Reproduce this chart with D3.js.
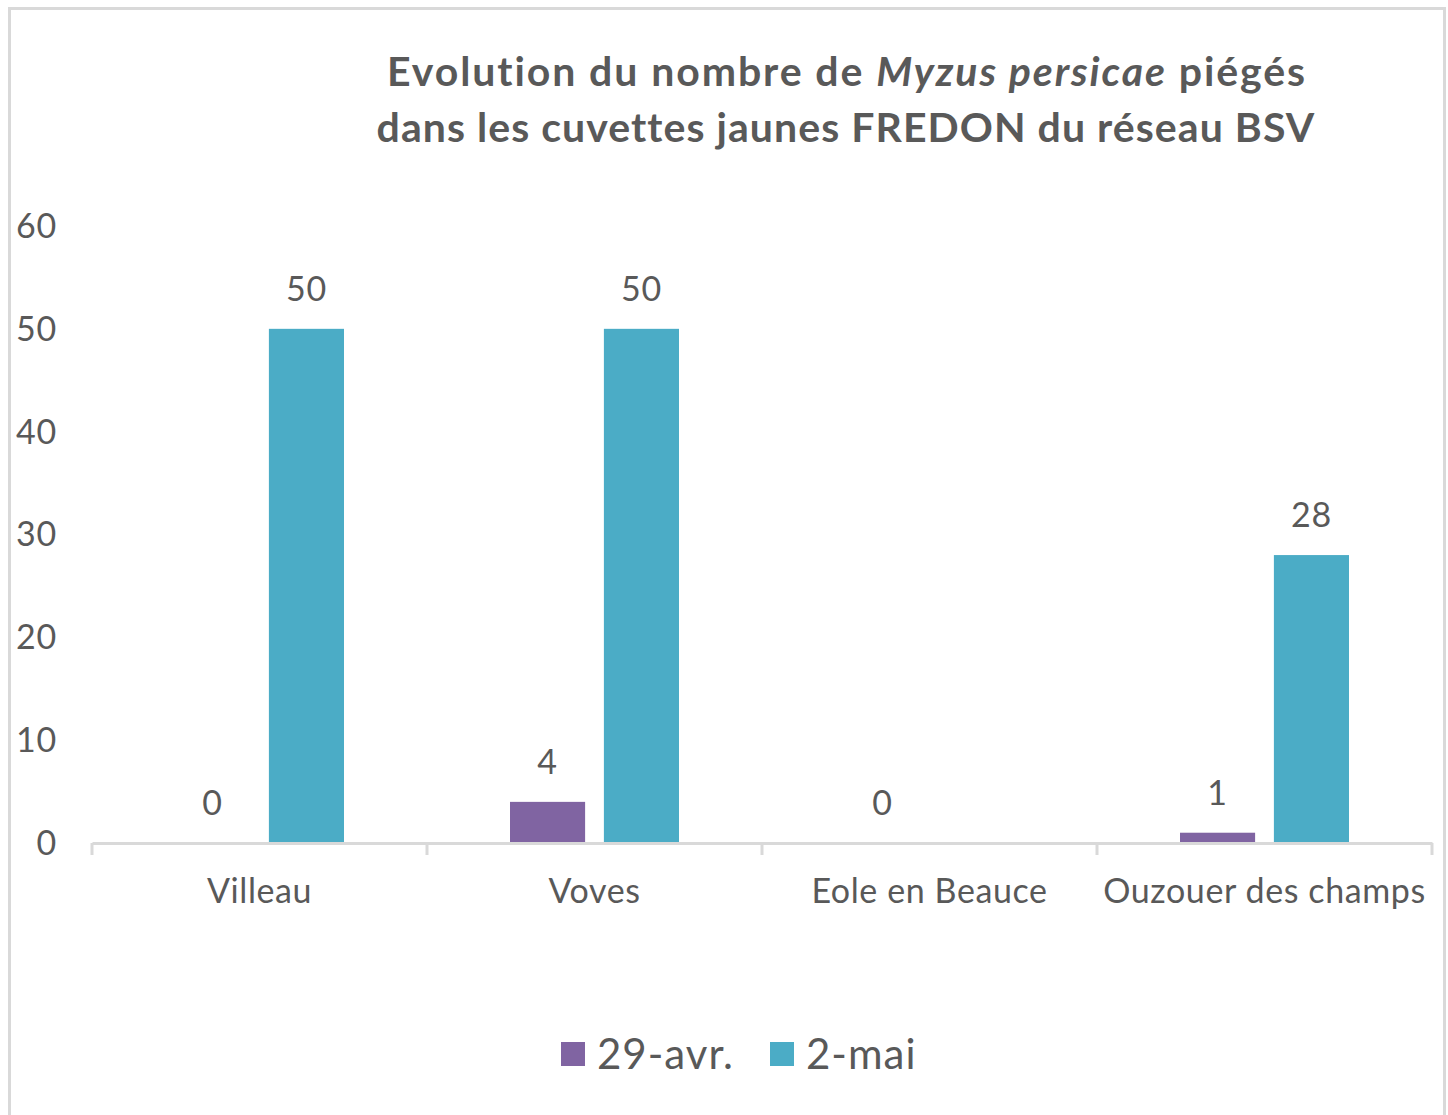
<!DOCTYPE html>
<head>
    <meta charset="utf-8">
    <script src="https://d3js.org/d3.v7.min.js"></script>
</head>
<body style="background: white; margin: 0">
    <div id="my_dataviz"></div>
    <script>
        // data
        var categories = ["Villeau", "Voves", "Eole en Beauce", "Ouzouer des champs"];
        var seriesNames = ["29-avr.", "2-mai"];
        var avr29 = [0, 4, 0, 1];
        var mai2 = [50, 50, null, 28];
        var yTicks = [0, 10, 20, 30, 40, 50, 60];
        var colors = ["#8064A2", "#4BACC6"];

        var W = 1448, H = 1115;
        var font = "Lato, 'Open Sans', sans-serif";
        var textColor = "#595959";

        var svg = d3.select("#my_dataviz")
            .append("svg")
            .attr("width", W)
            .attr("height", H)
            .style("display", "block");

        // chart frame
        svg.append("rect")
            .attr("x", 9.5).attr("y", 8.5)
            .attr("width", 1435).attr("height", 1120)
            .attr("fill", "white")
            .attr("stroke", "#d9d9d9")
            .attr("stroke-width", 3);

        // title
        var title = svg.append("text")
            .attr("text-anchor", "middle")
            .attr("font-family", font)
            .attr("font-weight", "bold")
            .attr("font-size", 41)
            .attr("fill", textColor);
        var t1 = title.append("tspan").attr("x", 847).attr("y", 86)
            .attr("letter-spacing", 1.9);
        t1.append("tspan").text("Evolution du nombre de ");
        t1.append("tspan").attr("font-style", "italic").text("Myzus persicae");
        t1.append("tspan").text(" piégés");
        title.append("tspan").attr("x", 846).attr("y", 142)
            .attr("letter-spacing", 1.05)
            .text("dans les cuvettes jaunes FREDON du réseau BSV");

        // scales
        var x0 = d3.scaleBand()
            .domain(categories)
            .range([92, 1432])
            .padding(0);

        var x1 = d3.scaleBand()
            .domain(seriesNames)
            .range([83, x0.bandwidth() - 83])
            .paddingInner(0.2);

        var y = d3.scaleLinear()
            .domain([0, 60])
            .range([843, 226]);

        // y labels (no axis line)
        svg.selectAll(".ylab")
            .data(yTicks)
            .enter()
            .append("text")
            .attr("x", 57)
            .attr("y", function (d) { return y(d); })
            .attr("dy", "0.35em")
            .attr("text-anchor", "end")
            .attr("font-family", font)
            .attr("font-size", 34)
            .attr("letter-spacing", 0.8)
            .attr("fill", textColor)
            .text(function (d) { return d; });

        // bars
        var rows = [];
        categories.forEach(function (c, i) {
            rows.push({ cat: c, s: seriesNames[0], v: avr29[i], col: colors[0] });
            rows.push({ cat: c, s: seriesNames[1], v: mai2[i], col: colors[1] });
        });
        var shown = rows.filter(function (d) { return d.v !== null; });

        svg.selectAll(".bar")
            .data(shown)
            .enter()
            .append("rect")
            .attr("x", function (d) { return x0(d.cat) + x1(d.s); })
            .attr("y", function (d) { return y(d.v); })
            .attr("width", x1.bandwidth())
            .attr("height", function (d) { return y(0) - y(d.v); })
            .attr("fill", function (d) { return d.col; });

        svg.selectAll(".vlab")
            .data(shown)
            .enter()
            .append("text")
            .attr("x", function (d) { return x0(d.cat) + x1(d.s) + x1.bandwidth() / 2; })
            .attr("y", function (d) { return y(d.v) - 28; })
            .attr("text-anchor", "middle")
            .attr("font-family", font)
            .attr("font-size", 34)
            .attr("letter-spacing", 0.8)
            .attr("fill", textColor)
            .text(function (d) { return d.v; });

        // x axis
        var xAxis = svg.append("g")
            .attr("transform", "translate(0," + y(0) + ")")
            .call(d3.axisBottom(x0).tickSize(0).tickPadding(36));
        xAxis.select(".domain").attr("stroke", "#d9d9d9").attr("stroke-width", 3);
        xAxis.selectAll("text")
            .attr("font-family", font)
            .attr("font-size", 34)
            .attr("letter-spacing", 0.6)
            .attr("fill", textColor);
        // boundary ticks
        var bounds = categories.map(function (c) { return x0(c); }).concat([x0.range()[1]]);
        svg.selectAll(".btick")
            .data(bounds)
            .enter()
            .append("line")
            .attr("x1", function (d) { return d; })
            .attr("x2", function (d) { return d; })
            .attr("y1", y(0))
            .attr("y2", y(0) + 12)
            .attr("stroke", "#d9d9d9")
            .attr("stroke-width", 3);

        // legend
        var legend = svg.append("g");
        var lx = [561, 770];
        seriesNames.forEach(function (s, i) {
            legend.append("rect")
                .attr("x", lx[i]).attr("y", 1042)
                .attr("width", 24).attr("height", 24)
                .attr("fill", colors[i]);
            legend.append("text")
                .attr("x", lx[i] + 36)
                .attr("y", 1054)
                .attr("dy", "0.35em")
                .attr("font-family", font)
                .attr("font-size", 42)
                .attr("letter-spacing", 1)
                .attr("fill", textColor)
                .text(s);
        });
    </script>
</body>
</html>
